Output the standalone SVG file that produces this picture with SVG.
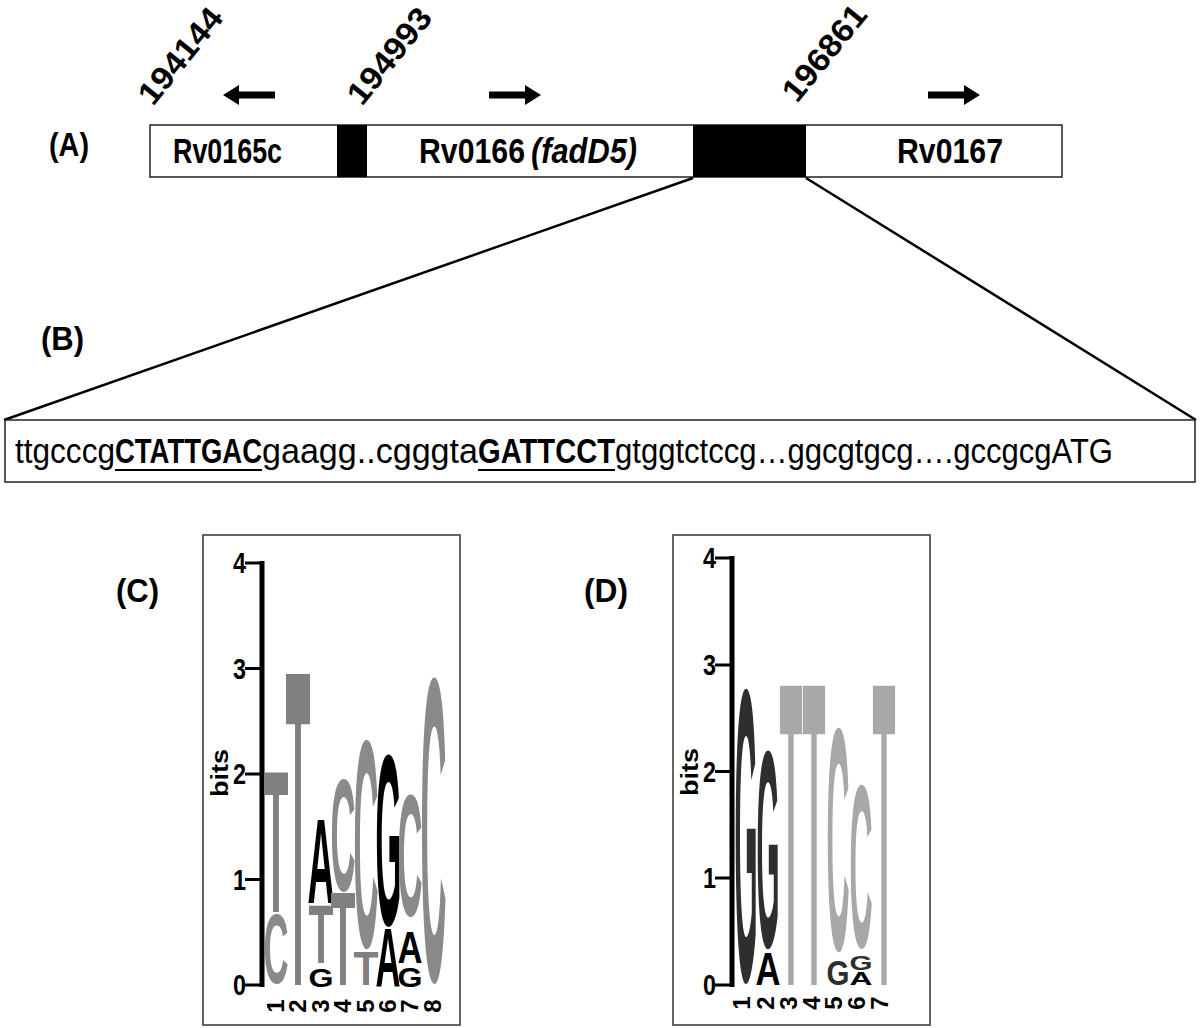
<svg xmlns="http://www.w3.org/2000/svg" width="1200" height="1028" viewBox="0 0 1200 1028">
<style>
text{font-family:"Liberation Sans",Arial,sans-serif;}
.b{font-weight:bold;}
.bi{font-weight:bold;font-style:italic;}
.n{font-weight:normal;}
.frame{fill:#fff;stroke:#333;stroke-width:1.5;}
.ax{stroke:#000;stroke-width:5;fill:none;}
.tk{stroke:#000;stroke-width:3;fill:none;}
.g1{fill:#808080;}
.g2{fill:#8a8a8a;}
.k{fill:#000;}
.dk{fill:#2e2e2e;}
.lt{fill:#a8a8a8;}
.zl{stroke:#000;stroke-width:2.5;fill:none;}
</style>
<rect width="1200" height="1028" fill="#fff"/>

<!-- Panel A -->
<g id="label-a"><text class="b" x="49" y="156" font-size="33" textLength="40" lengthAdjust="spacingAndGlyphs">(A)</text></g>
<g id="coords">
<text class="b" font-size="32" textLength="114" lengthAdjust="spacingAndGlyphs" transform="translate(153,107) rotate(-51)">194144</text>
<text class="b" font-size="32" textLength="114" lengthAdjust="spacingAndGlyphs" transform="translate(362,107) rotate(-51)">194993</text>
<text class="b" font-size="32" textLength="114" lengthAdjust="spacingAndGlyphs" transform="translate(797,104) rotate(-51)">196861</text>
</g>
<g id="arrows">
<path d="M223,95 L239,85 L239,91.5 L275,91.5 L275,98.5 L239,98.5 L239,105 Z" fill="#000"/>
<path d="M541,95 L525,85 L525,91.5 L489,91.5 L489,98.5 L525,98.5 L525,105 Z" fill="#000"/>
<path d="M980,95 L964,85 L964,91.5 L928,91.5 L928,98.5 L964,98.5 L964,105 Z" fill="#000"/>
</g>
<g id="gene-map">
<rect x="150" y="125" width="912" height="52" fill="#fff" stroke="#222" stroke-width="1.5"/>
<rect id="ig1" x="337" y="125" width="30" height="52" fill="#000"/>
<rect id="ig2" x="693" y="125" width="113" height="52" fill="#000"/>
</g>
<g id="gene-rv0165c"><text class="b" x="173" y="163" font-size="35" textLength="109" lengthAdjust="spacingAndGlyphs">Rv0165c</text></g>
<g id="gene-rv0166">
<text class="b" x="419" y="163" font-size="35" textLength="106" lengthAdjust="spacingAndGlyphs">Rv0166</text>
<text class="bi" x="531" y="163" font-size="35" textLength="106" lengthAdjust="spacingAndGlyphs">(fadD5)</text>
</g>
<g id="gene-rv0167"><text class="b" x="897" y="163" font-size="35" textLength="106" lengthAdjust="spacingAndGlyphs">Rv0167</text></g>

<!-- connectors -->
<g id="connectors">
<line class="zl" x1="693" y1="178" x2="4" y2="420"/>
<line class="zl" x1="806" y1="178" x2="1196" y2="420"/>
</g>

<!-- Panel B -->
<g id="label-b"><text class="b" x="41" y="350" font-size="33" textLength="43" lengthAdjust="spacingAndGlyphs">(B)</text></g>
<g id="sequence">
<rect x="5" y="420" width="1190" height="62" fill="#fff" stroke="#222" stroke-width="1.5"/>
<text class="n" x="15" y="463" font-size="35" textLength="100" lengthAdjust="spacingAndGlyphs">ttgcccg</text>
<text class="b" x="115" y="463" font-size="35" textLength="147" lengthAdjust="spacingAndGlyphs">CTATTGAC</text>
<text class="n" x="262" y="463" font-size="35" textLength="216" lengthAdjust="spacingAndGlyphs">gaagg..cgggta</text>
<text class="b" x="478" y="463" font-size="35" textLength="137" lengthAdjust="spacingAndGlyphs">GATTCCT</text>
<text class="n" x="615" y="463" font-size="35" textLength="498" lengthAdjust="spacingAndGlyphs">gtggtctccg…ggcgtgcg….gccgcgATG</text>
<line x1="115" y1="470" x2="262" y2="470" stroke="#000" stroke-width="2"/>
<line x1="478" y1="470" x2="615" y2="470" stroke="#000" stroke-width="2"/>
</g>

<!-- Panel C -->
<g id="label-c"><text class="b" x="116" y="602" font-size="34" textLength="43" lengthAdjust="spacingAndGlyphs">(C)</text></g>
<g id="logo-c">
<rect class="frame" x="203" y="535" width="257" height="490"/>
<line class="ax" x1="262" y1="561" x2="262" y2="987"/>
<g class="tk">
<line x1="245" y1="563" x2="262" y2="563"/>
<line x1="245" y1="668.5" x2="262" y2="668.5"/>
<line x1="245" y1="774" x2="262" y2="774"/>
<line x1="245" y1="879.5" x2="262" y2="879.5"/>
<line x1="245" y1="985" x2="262" y2="985"/>
</g>
<g class="b" font-size="29" text-anchor="end">
<text x="246" y="573" textLength="13" lengthAdjust="spacingAndGlyphs">4</text>
<text x="246" y="678.5" textLength="13" lengthAdjust="spacingAndGlyphs">3</text>
<text x="246" y="784" textLength="13" lengthAdjust="spacingAndGlyphs">2</text>
<text x="246" y="889.5" textLength="13" lengthAdjust="spacingAndGlyphs">1</text>
<text x="246" y="995" textLength="13" lengthAdjust="spacingAndGlyphs">0</text>
</g>
<text class="b" font-size="24" text-anchor="middle" textLength="48" lengthAdjust="spacingAndGlyphs" transform="translate(228,773) rotate(-90)">bits</text>
<g class="b" font-size="24" text-anchor="middle">
<text transform="translate(284,1006) rotate(-90)">1</text>
<text transform="translate(306,1006) rotate(-90)">2</text>
<text transform="translate(329,1006) rotate(-90)">3</text>
<text transform="translate(351,1006) rotate(-90)">4</text>
<text transform="translate(374,1006) rotate(-90)">5</text>
<text transform="translate(396,1006) rotate(-90)">6</text>
<text transform="translate(418,1006) rotate(-90)">7</text>
<text transform="translate(441,1006) rotate(-90)">8</text>
</g>
<g class="b">
<text class="g1" x="263.5" y="912" font-size="203" textLength="25" lengthAdjust="spacingAndGlyphs">T</text>
<text class="g2" x="263.5" y="982.8" font-size="98.6" textLength="25" lengthAdjust="spacingAndGlyphs">C</text>
<text class="g1" x="285.5" y="985" font-size="452" textLength="25" lengthAdjust="spacingAndGlyphs">T</text>
<text class="k" x="307.5" y="903" font-size="120" textLength="27" lengthAdjust="spacingAndGlyphs">A</text>
<text class="g1" x="308.5" y="963" font-size="84" textLength="25" lengthAdjust="spacingAndGlyphs">T</text>
<text class="k" x="308.5" y="986.7" font-size="26.4" textLength="25" lengthAdjust="spacingAndGlyphs">G</text>
<text class="g2" x="330.5" y="890" font-size="160" textLength="25" lengthAdjust="spacingAndGlyphs">C</text>
<text class="g1" x="330.5" y="985" font-size="133" textLength="25" lengthAdjust="spacingAndGlyphs">T</text>
<text class="g2" x="353.5" y="946.4" font-size="296" textLength="25" lengthAdjust="spacingAndGlyphs">C</text>
<text class="g1" x="353.5" y="985" font-size="48" textLength="25" lengthAdjust="spacingAndGlyphs">T</text>
<text class="k" x="375.5" y="925" font-size="244" textLength="26" lengthAdjust="spacingAndGlyphs">G</text>
<text class="k" x="375.5" y="987" font-size="83" textLength="25" lengthAdjust="spacingAndGlyphs">A</text>
<text class="g2" x="397.5" y="915" font-size="172" textLength="25" lengthAdjust="spacingAndGlyphs">C</text>
<text class="k" x="397.5" y="963" font-size="43.5" textLength="25" lengthAdjust="spacingAndGlyphs">A</text>
<text class="k" x="397.5" y="986.7" font-size="28" textLength="25" lengthAdjust="spacingAndGlyphs">G</text>
<text class="g2" x="420.5" y="979.8" font-size="433" textLength="26" lengthAdjust="spacingAndGlyphs">C</text>
</g>
</g>

<!-- Panel D -->
<g id="label-d"><text class="b" x="584" y="602" font-size="34" textLength="44" lengthAdjust="spacingAndGlyphs">(D)</text></g>
<g id="logo-d">
<rect class="frame" x="673" y="535" width="257" height="490"/>
<line class="ax" x1="732" y1="556" x2="732" y2="987"/>
<g class="tk">
<line x1="715" y1="558" x2="732" y2="558"/>
<line x1="715" y1="665" x2="732" y2="665"/>
<line x1="715" y1="771.5" x2="732" y2="771.5"/>
<line x1="715" y1="878" x2="732" y2="878"/>
<line x1="715" y1="985" x2="732" y2="985"/>
</g>
<g class="b" font-size="29" text-anchor="end">
<text x="716" y="568" textLength="13" lengthAdjust="spacingAndGlyphs">4</text>
<text x="716" y="675" textLength="13" lengthAdjust="spacingAndGlyphs">3</text>
<text x="716" y="781.5" textLength="13" lengthAdjust="spacingAndGlyphs">2</text>
<text x="716" y="888" textLength="13" lengthAdjust="spacingAndGlyphs">1</text>
<text x="716" y="995" textLength="13" lengthAdjust="spacingAndGlyphs">0</text>
</g>
<text class="b" font-size="24" text-anchor="middle" textLength="48" lengthAdjust="spacingAndGlyphs" transform="translate(698,772) rotate(-90)">bits</text>
<g class="b" font-size="24" text-anchor="middle">
<text transform="translate(750,1003) rotate(-90)">1</text>
<text transform="translate(774,1003) rotate(-90)">2</text>
<text transform="translate(797,1003) rotate(-90)">3</text>
<text transform="translate(820,1003) rotate(-90)">4</text>
<text transform="translate(842,1003) rotate(-90)">5</text>
<text transform="translate(865,1003) rotate(-90)">6</text>
<text transform="translate(888,1003) rotate(-90)">7</text>
</g>
<g class="b">
<text class="dk" x="734.5" y="980" font-size="417" textLength="23" lengthAdjust="spacingAndGlyphs">G</text>
<text class="dk" x="756.5" y="946.6" font-size="281" textLength="23" lengthAdjust="spacingAndGlyphs">G</text>
<text class="k" x="755.5" y="985" font-size="46" textLength="25" lengthAdjust="spacingAndGlyphs">A</text>
<text class="lt" x="779.5" y="985" font-size="435" textLength="23" lengthAdjust="spacingAndGlyphs">T</text>
<text class="lt" x="802.5" y="985" font-size="435" textLength="23" lengthAdjust="spacingAndGlyphs">T</text>
<text class="lt" x="826.5" y="949.2" font-size="317" textLength="23" lengthAdjust="spacingAndGlyphs">C</text>
<text class="dk" x="826.5" y="984.6" font-size="35" textLength="23" lengthAdjust="spacingAndGlyphs">G</text>
<text class="lt" x="849.5" y="947.2" font-size="232" textLength="23" lengthAdjust="spacingAndGlyphs">C</text>
<text class="dk" x="849.5" y="969.7" font-size="21" textLength="23" lengthAdjust="spacingAndGlyphs">G</text>
<text class="k" x="849.5" y="985" font-size="19" textLength="23" lengthAdjust="spacingAndGlyphs">A</text>
<text class="lt" x="872.5" y="985" font-size="435" textLength="23" lengthAdjust="spacingAndGlyphs">T</text>
</g>
</g>
</svg>
